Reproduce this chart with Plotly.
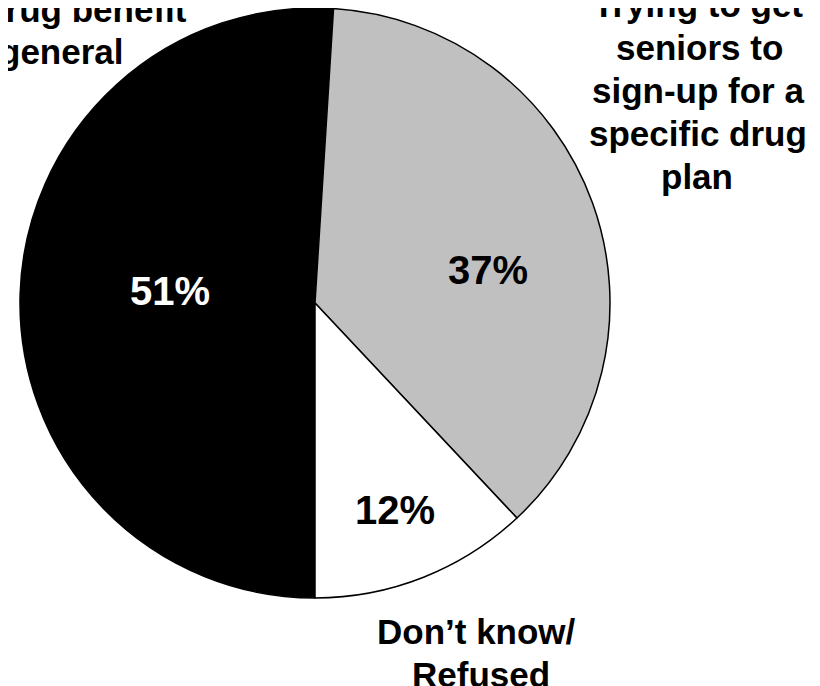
import plotly.graph_objects as go

categories = ["Educating seniors about the drug benefit in general",
              "Trying to get seniors to sign-up for a specific drug plan",
              "Don’t know/ Refused"]
values = [51, 37, 12]
colors = ["#000000", "#C0C0C0", "#FFFFFF"]
pct_colors = ["#FFFFFF", "#000000", "#000000"]
# visible label lines (top-left label is cut by the chart edge)
label_lines = [["the drug benefit", "general"],
               ["Trying to get", "seniors to", "sign-up for a", "specific drug", "plan"],
               ["Don’t know/", "Refused"]]

W, H = 820, 686
OFF = 8  # page body margin offset
FONT = "Liberation Sans, Arial, sans-serif"

# pie centre and radius in screen pixels
CX, CY, R = 315, 303, 295
fig = go.Figure(go.Pie(
    labels=categories,
    values=values,
    sort=False,
    direction="clockwise",
    rotation=180,
    marker=dict(colors=colors, line=dict(color="#000000", width=1.5)),
    textinfo="none",
    hoverinfo="label+percent",
    showlegend=False,
    domain=dict(x=[(CX - R - OFF) / W, (CX + R - OFF) / W],
                y=[max(0, 1 - (CY + R - OFF) / H), min(1, 1 - (CY - R - OFF) / H)]),
))

def px(x, y):
    return (x - OFF) / W, 1 - (y - OFF) / H

annotations = []
# percentage labels
pct_pos = [(170, 291), (488, 270), (395, 510)]
for v, c, (x, y) in zip(values, pct_colors, pct_pos):
    ax, ay = px(x, y)
    annotations.append(dict(x=ax, y=ay, xref="paper", yref="paper",
                            text=f"<b>{v}%</b>", showarrow=False,
                            xanchor="center", yanchor="middle",
                            font=dict(family=FONT, size=40, color=c)))

# category labels (outside), one annotation per line
line_pos = [[(54, 9.5), (61, 52)],
            [(698, 4), (699, 47), (698, 90), (698, 133.5), (697, 176.5)],
            [(477, 631.5), (481, 674.5)]]
for lines, poss in zip(label_lines, line_pos):
    for t, (x, y) in zip(lines, poss):
        ax, ay = px(x, y)
        annotations.append(dict(x=ax, y=ay, xref="paper", yref="paper",
                                text=f"<b>{t}</b>", showarrow=False,
                                xanchor="center", yanchor="middle",
                                font=dict(family=FONT, size=35, color="#000000")))

fig.update_layout(
    width=W, height=H,
    margin=dict(l=0, r=0, t=0, b=0),
    paper_bgcolor="#FFFFFF", plot_bgcolor="#FFFFFF",
    annotations=annotations,
)

fig.write_html("out.html")
